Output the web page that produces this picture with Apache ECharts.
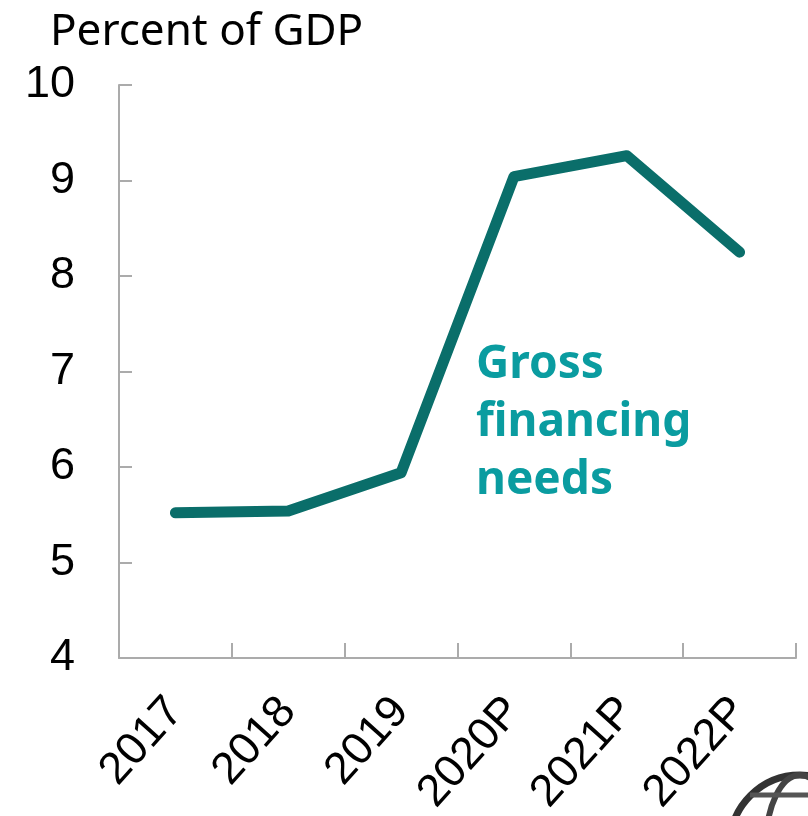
<!DOCTYPE html>
<html>
<head>
<meta charset="utf-8">
<script src="https://cdn.jsdelivr.net/npm/echarts@6/dist/echarts.min.js"></script>
<style>
  html, body { margin: 0; padding: 0; background: #fff; }
  #chart { width: 808px; height: 816px; }
</style>
</head>
<body>
<div id="chart"></div>
<script>
// Gross financing needs, percent of GDP
const years = ['2017', '2018', '2019', '2020P', '2021P', '2022P'];
const grossFinancingNeeds = [5.52, 5.54, 5.94, 9.04, 9.26, 8.25];
const yTicks = [4, 5, 6, 7, 8, 9, 10];

const axisGray = '#ababab';
const lineTeal = '#0a6e6a';
const labelTeal = '#0a9ca0';

const chart = echarts.init(document.getElementById('chart'), null, { renderer: 'canvas' });

chart.setOption({
  animation: false,
  backgroundColor: '#ffffff',
  grid: { left: 119, right: 12, top: 85, bottom: 158, containLabel: false, outerBoundsMode: 'none' },
  xAxis: {
    type: 'category',
    data: years,
    boundaryGap: true,
    axisLine: { show: true, lineStyle: { color: axisGray, width: 2 } },
    axisTick: { show: true, inside: true, length: 15, lineStyle: { color: axisGray, width: 2 } },
    axisLabel: {
      rotate: 48,
      margin: 46,
      color: '#000',
      fontFamily: 'Liberation Sans',
      fontSize: 45
    },
    splitLine: { show: false }
  },
  yAxis: {
    type: 'value',
    min: yTicks[0],
    max: yTicks[yTicks.length - 1],
    interval: 1,
    axisLine: { show: true, lineStyle: { color: axisGray, width: 2 } },
    axisTick: { show: true, inside: true, length: 13, lineStyle: { color: axisGray, width: 2 } },
    axisLabel: {
      margin: 44,
      color: '#000',
      fontFamily: 'Liberation Sans',
      fontSize: 45
    },
    splitLine: { show: false }
  },
  series: [{
    name: 'Gross financing needs',
    type: 'line',
    data: grossFinancingNeeds,
    symbol: 'none',
    lineStyle: { color: lineTeal, width: 11, cap: 'round', join: 'round' }
  }],
  graphic: [
    {
      type: 'text',
      left: 50,
      top: 10,
      style: {
        text: 'Percent of GDP',
        fontFamily: 'Noto Sans',
        fontSize: 44,
        fill: '#000'
      }
    },
    {
      type: 'text',
      left: 476,
      top: 336,
      style: {
        text: 'Gross\nfinancing\nneeds',
        fontFamily: 'Noto Sans',
        fontWeight: 'bold',
        fontSize: 46,
        lineHeight: 58,
        fill: labelTeal
      }
    },
    {
      // globe mark in the lower right corner
      type: 'group',
      x: 800,
      y: 845,
      children: [
        { type: 'circle', shape: { cx: 0, cy: 0, r: 70 }, style: { fill: 'none', stroke: '#333', lineWidth: 7 } },
        { type: 'ellipse', shape: { cx: 0, cy: 0, rx: 34, ry: 70 }, style: { fill: 'none', stroke: '#444', lineWidth: 6 } },
        { type: 'line', shape: { x1: -68, y1: -20, x2: 68, y2: -20 }, style: { stroke: '#444', lineWidth: 6 } },
        { type: 'line', shape: { x1: -50, y1: -50, x2: 50, y2: -50 }, style: { stroke: '#555', lineWidth: 5 } }
      ],
      silent: true
    }
  ]
});
</script>
</body>
</html>
